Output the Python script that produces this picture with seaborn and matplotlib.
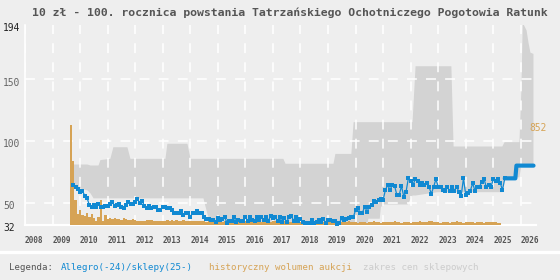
import numpy as np
import matplotlib
matplotlib.use("Agg")
import matplotlib.pyplot as plt
import matplotlib.transforms as mtransforms
import seaborn as sns

# ---------------- data ----------------
TITLE = "10 zł - 100. rocznica powstania Tatrzańskiego Ochotniczego Pogotowia Ratunk"
years = list(range(2008, 2027))
y_ticks = [32, 50, 100, 150, 194]
grid_y = [50, 100, 150]

# Allegro monthly average prices, starting Oct 2009
allegro_start = 2009.75
allegro_prices = [
    64.4, 63.1, 60.9, 59.0, 59.8, 55.8, 54.2, 48.2, 46.9, 48.2,
    46.9, 49.0, 46.9, 46.9, 47.7, 47.7, 49.0, 50.9, 47.4, 48.2,
    49.0, 46.3, 45.5, 48.2, 50.4, 48.8, 49.0, 50.9, 52.8, 50.1,
    51.7, 47.4, 45.5, 47.4, 45.5, 46.3, 46.3, 44.2, 44.2, 46.9,
    46.3, 45.5, 46.0, 44.2, 41.5, 41.5, 42.0, 43.4, 40.1, 42.0,
    41.5, 38.8, 41.5, 41.5, 43.4, 41.5, 41.5, 38.8, 36.9, 36.9,
    36.1, 36.1, 34.7, 37.4, 36.1, 36.9, 38.2, 33.9, 35.5, 35.5,
    38.2, 34.7, 36.1, 35.5, 35.5, 38.2, 35.5, 38.2, 36.1, 35.5,
    38.2, 36.1,
    38.2, 36.1, 38.2, 35.5, 39.3, 37.4, 38.2, 35.5, 38.2, 34.7,
    37.4, 34.7, 38.2, 39.3, 35.5, 38.8, 35.5, 36.6, 34.7, 33.9,
    33.4, 33.9, 36.1, 33.4, 34.7, 36.1, 34.7, 36.6, 33.9, 36.1,
    36.1, 35.5, 35.5, 32.0, 33.9, 37.4, 36.1, 36.6, 37.4, 38.8,
    38.2, 44.2, 45.5, 42.0, 42.0, 46.9, 42.8, 46.9, 48.2, 51.5,
    50.9, 52.3, 52.8, 52.3, 60.4, 64.4, 60.4, 64.4, 63.6, 56.3,
    56.3,
    63.6, 55.0, 59.0, 69.8, 67.9, 64.4, 69.0, 67.9, 64.4, 66.3,
    64.4, 66.3, 63.1, 57.1, 63.1, 69.0, 63.1, 63.1, 60.4, 59.8,
    62.5, 59.8, 63.1, 59.8, 63.1, 59.0, 55.5, 69.8, 56.3, 57.7,
    59.8, 65.8, 59.8, 62.5, 63.1, 67.1, 69.0, 62.5, 64.4, 63.1,
    69.0, 67.7, 69.0, 66.3, 60.3, 69.8,
]

# shop prices (2025-)
shop_dates = [2025.42, 2025.80, 2025.84, 2026.46]
shop_prices = [69.8, 69.8, 80.1, 80.1]

# historical auction volume, monthly, starting Aug 2009
volume_start = 2009.63
volumes = [
    852, 545, 213, 91, 128, 85, 77, 100, 71, 91,
    57, 34, 71, 213, 34, 85, 51, 62, 51, 62,
    49, 51, 43, 62, 51, 43, 43, 51, 43, 37,
    37, 37, 37, 43, 43, 43, 37, 37, 37, 37,
    37, 37,
    40, 37, 43, 37, 40, 34, 37, 40, 37, 34, 37, 34, 31, 34, 31, 34, 31,
    28, 31, 26, 28, 31, 28, 26, 28, 31, 34, 28, 26, 28, 26, 23, 26, 28, 31, 28, 26,
    28, 31, 28, 26, 23, 26, 28, 26, 28, 31, 34, 28, 26, 28, 31, 28, 26, 26, 28, 26,
    23, 26, 28, 31, 26, 28, 26, 23, 26, 28, 26, 23, 26, 28, 31, 28, 26, 23, 26, 28,
    26, 28, 31, 28, 26,
    23, 20, 23, 26, 23, 20, 23, 26, 34, 26, 23, 20, 23, 26, 23, 23, 26, 31, 26, 23,
    20, 23, 26, 23, 20, 23, 26, 23, 31, 26, 23, 26, 31, 34, 28, 26, 23, 20, 23, 26,
    23, 20, 26, 23, 31, 26, 23, 20, 23, 26, 28, 23, 20, 23, 26, 23, 20, 23, 26, 23,
    26, 23, 20, 20,
]
volume_max_label = 852

# shop price range band
band_dates = [2009.63, 2009.71, 2009.74, 2010.00, 2010.25, 2010.36, 2010.47, 2010.65,
              2010.72, 2011.08, 2011.19, 2011.70, 2011.81, 2013.08, 2013.15, 2013.88,
              2013.99, 2014.46, 2014.61, 2014.72, 2017.36, 2017.44, 2019.18, 2019.25,
              2019.83, 2019.91, 2020.41, 2020.45, 2020.86, 2020.90, 2021.00, 2021.87,
              2021.98, 2022.05, 2022.16, 2022.96, 2023.46, 2023.54, 2025.31, 2025.39,
              2025.93, 2026.00, 2026.05, 2026.10, 2026.19, 2026.26, 2026.33, 2026.44]
band_low = [67, 66, 66, 62, 60.4, 58, 54, 54,
            54, 54, 54, 54, 54, 54, 54, 54,
            54, 54, 40.7, 35, 35, 34, 34, 34,
            34, 33.6, 33.6, 37.5, 37.5, 46.8, 49, 49,
            53.6, 56.3, 56.3, 59, 59, 59, 59, 71,
            71, 80.6, 80.6, 80.6, 80.6, 80.6, 80.6, 80.6]
band_high = [71, 71, 81.4, 81.4, 81.4, 80.6, 80.6, 80.6,
             85, 86, 95.4, 95.4, 86, 86, 98.2, 98.2,
             86, 86, 86, 86, 86, 82, 82, 90,
             90, 115.7, 115.7, 115.7, 115.7, 115.7, 115.7, 115.7,
             115.7, 115.7, 161, 161, 161, 96, 96, 99.5,
             99.5, 140, 196, 194, 190, 180, 172, 171]

# ---------------- style ----------------
BG = "#eeeeee"
BLUE = "#1189d2"
ORANGE = "#d6a355"
BAND = "#d3d3d3"
MONO = ["DejaVu Sans Mono", "DejaVu Sans"]

sns.set_theme(style="white", rc={"axes.facecolor": BG, "figure.facecolor": BG,
                                 "savefig.facecolor": BG})
plt.rcParams["font.family"] = MONO

W, H = 560, 280
fig = plt.figure(figsize=(W / 100, H / 100), dpi=100)
ax = fig.add_axes([25 / W, 55 / H, 511 / W, 200 / H])
ax.set_xlim(2008, 2026.55)
ax.set_ylim(32, 194)

# band
ax.fill_between(band_dates, band_low, band_high, color=BAND, linewidth=0, zorder=1)

# grid
ax.set_xticks(years)
ax.set_yticks(grid_y)
ax.set_axisbelow("line")
ax.grid(True, color="white", linewidth=1.1, linestyle=(0, (6.5, 6)), zorder=1.5)
ax.set_yticklabels([])
ax.tick_params(axis="y", length=0)
ax.tick_params(axis="x", length=2, width=1, color="white", pad=6.0,
               labelsize=5.6, labelcolor="#555555")
ax.set_xticklabels([str(y) for y in years])
for lbl in ax.get_xticklabels():
    lbl.set_ha("left")
    lbl.set_fontweight("bold")
for s in ["top", "right"]:
    ax.spines[s].set_visible(False)
ax.spines["left"].set_color("white")
ax.spines["left"].set_linewidth(1.2)
ax.spines["bottom"].set_color("white")
ax.spines["bottom"].set_linewidth(1.6)

# volume bars
axv = ax.twinx()
axv.set_ylim(0, 2 * volume_max_label)
vol_x = volume_start + np.arange(len(volumes)) / 12
axv.bar(vol_x, volumes, width=1 / 12, align="edge", color=ORANGE, linewidth=0)
axv.set_yticks([])
for s in axv.spines.values():
    s.set_visible(False)

# price lines
axp = ax.twinx()
axp.set_ylim(32, 194)
axp.set_xlim(2008, 2026.55)
price_x = allegro_start + np.arange(len(allegro_prices)) / 12
sns.lineplot(x=price_x, y=allegro_prices, ax=axp, color=BLUE, linewidth=0.9,
             marker="s", markersize=2.9, markeredgewidth=0, sort=False, estimator=None)
sns.lineplot(x=[price_x[-1]] + shop_dates, y=[allegro_prices[-1]] + shop_prices, ax=axp,
             color=BLUE, linewidth=3.0, sort=False, estimator=None)
axp.set_yticks([])
axp.set_ylabel("")
for s in axp.spines.values():
    s.set_visible(False)

# y labels (left) and volume max label (right)
off = mtransforms.ScaledTranslation(0, -3.3 / 100, fig.dpi_scale_trans)
ytr = mtransforms.blended_transform_factory(fig.transFigure, ax.transData) + off
for v in y_ticks:
    col = "#222222" if v in (32, 194) else "#666666"
    fig.text(3 / W, v, str(v), transform=ytr, ha="left", va="center",
             fontsize=6.9, color=col)
vtr = mtransforms.blended_transform_factory(fig.transFigure, axv.transData) + off
fig.text(529 / W, volume_max_label, str(volume_max_label), transform=vtr,
         ha="left", va="center", fontsize=6.9, color=ORANGE)

# title
fig.text(32 / W, 1 - 12.5 / H, TITLE, ha="left", va="center", fontsize=8.25,
         fontweight="bold", color="#555555")

# separator
fig.add_artist(plt.Line2D([0, 1], [1 - 251.5 / H] * 2, transform=fig.transFigure,
                          color="white", linewidth=2.4))

# legend
leg_y = 1 - 267 / H
fig.text(9 / W, leg_y, "Legenda:", ha="left", va="center", fontsize=6.6, color="#555555")
fig.text(60.7 / W, leg_y, "Allegro(-24)/sklepy(25-)", ha="left", va="center",
         fontsize=6.6, color=BLUE)
fig.text(209.3 / W, leg_y, "historyczny wolumen aukcji", ha="left", va="center",
         fontsize=6.6, color=ORANGE)
fig.text(363.3 / W, leg_y, "zakres cen sklepowych", ha="left", va="center",
         fontsize=6.6, color="#cccccc")

fig.savefig("out.png", dpi=100, facecolor=BG)
